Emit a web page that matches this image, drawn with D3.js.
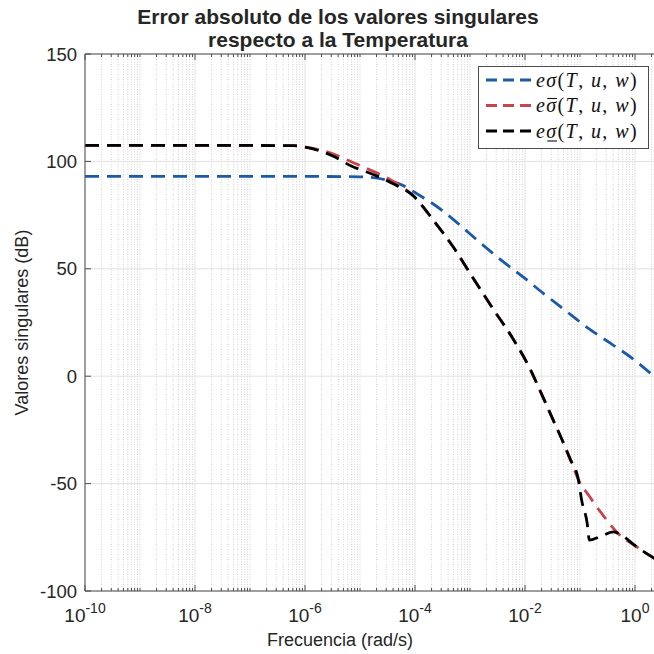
<!DOCTYPE html>
<html>
<head>
<meta charset="utf-8">
<script src="https://cdn.jsdelivr.net/npm/d3@7"></script>
<style>
  html, body { margin: 0; padding: 0; background: #fff; }
  svg { display: block; }
  text { font-family: "Liberation Sans", Arial, Helvetica, sans-serif; fill: #262626; }
  .leg { font-family: "Liberation Serif", "Times New Roman", serif; fill: #111; }
</style>
</head>
<body>
<svg id="chart" width="654" height="654"></svg>
<script>
// Frequency samples (rad/s) and singular-value errors (dB)
const freqSigma = [1e-10, 1e-8, 1e-6, 1e-5, 3.1e-5, 5.6e-5, 1e-4, 2.5e-4, 5.8e-4, 1.4e-3, 3.5e-3, 1e-2, 2.1e-2, 5e-2, 0.13, 0.35, 0.93, 2.0, 3.2];
const eSigma    = [93, 93, 93, 92.8, 91.3, 89.2, 85.5, 79, 71.5, 63, 54.5, 45.5, 38.8, 31.3, 23, 15.5, 8, 1, -3];

const freqMax = [1e-10, 1e-8, 6.3e-7, 1e-6, 1.8e-6, 3.2e-6, 7.4e-6, 1.3e-5, 4.1e-5, 9.3e-5, 2.1e-4, 5e-4, 1.15e-3, 2.6e-3, 6.2e-3, 1.23e-2, 1.86e-2, 3.2e-2, 4.7e-2, 6.6e-2, 9.3e-2, 0.15, 0.26, 0.49, 1.07, 2.0, 3.2];
const eSigmaMax = [107.5, 107.5, 107.3, 106.8, 105.5, 103.5, 99.5, 96.8, 90.6, 84, 73, 60, 45.5, 31.5, 17, 3.5, -6.5, -20, -29.5, -38.5, -48, -56.1, -64.6, -73.1, -79.4, -84, -87];

const freqMin = [1e-10, 1e-8, 6.3e-7, 1e-6, 1.8e-6, 3.2e-6, 7.4e-6, 1.3e-5, 4.1e-5, 9.3e-5, 2.1e-4, 5e-4, 1.15e-3, 2.6e-3, 6.2e-3, 1.23e-2, 1.86e-2, 3.2e-2, 4.7e-2, 6.6e-2, 9.3e-2, 0.107, 0.135, 0.148, 0.23, 0.41, 0.49, 1.07, 2.0, 3.2];
const eSigmaMin = [107.5, 107.5, 107.3, 106.6, 105, 102.5, 97.5, 95.2, 89.5, 84, 73, 60, 45.5, 31.5, 17, 3.5, -6.5, -20, -29.5, -38.5, -48, -57.6, -68.5, -76.3, -74.7, -72.5, -73.1, -79.4, -84, -87];

const yTicks = [-100, -50, 0, 50, 100, 150];
const xTickExponents = [-10, -8, -6, -4, -2, 0];

const titleLines = ["Error absoluto de los valores singulares", "respecto a la Temperatura"];
const xLabel = "Frecuencia (rad/s)";
const yLabel = "Valores singulares (dB)";

const seriesColors = ["#1a5aa6", "#c8434a", "#000000"];

const svg = d3.select("#chart");
const plot = { left: 85, top: 54, bottom: 591, pxPerDecade: 55 };
const xDomain = [1e-10, 2.6];
const x = d3.scaleLog().domain(xDomain)
  .range([plot.left, plot.left + plot.pxPerDecade * Math.log10(xDomain[1] / xDomain[0])]);
const y = d3.scaleLinear().domain([-100, 150]).range([plot.bottom, plot.top]);
const right = x.range()[1];

svg.append("defs").append("clipPath").attr("id", "clip")
  .append("rect").attr("x", plot.left).attr("y", plot.top)
  .attr("width", right - plot.left).attr("height", plot.bottom - plot.top);

// minor tick/grid positions: 1..9 × 10^k (skip the labelled decades)
const minorVals = [];
for (let k = -10; k <= 0; k++) {
  for (let m = 1; m <= 9; m++) {
    const v = m * Math.pow(10, k);
    if (v > xDomain[1]) continue;
    if (m === 1 && xTickExponents.includes(k)) continue;
    minorVals.push(v);
  }
}
const majorVals = xTickExponents.map(e => Math.pow(10, e));

const grid = svg.append("g");
grid.selectAll(".gminor").data(minorVals).join("line")
  .attr("x1", d => x(d)).attr("x2", d => x(d))
  .attr("y1", plot.top).attr("y2", plot.bottom)
  .attr("stroke", "#c8c8c8").attr("stroke-width", 0.8).attr("stroke-dasharray", "1,1.5");
grid.selectAll(".gmajor").data(majorVals).join("line")
  .attr("x1", d => x(d)).attr("x2", d => x(d))
  .attr("y1", plot.top).attr("y2", plot.bottom)
  .attr("stroke", "#e2e2e2").attr("stroke-width", 1);
grid.selectAll(".gy").data(yTicks).join("line")
  .attr("x1", plot.left).attr("x2", right)
  .attr("y1", d => y(d)).attr("y2", d => y(d))
  .attr("stroke", "#e2e2e2").attr("stroke-width", 1);

// series
const series = [
  { f: freqSigma, v: eSigma, c: seriesColors[0] },
  { f: freqMax, v: eSigmaMax, c: seriesColors[1] },
  { f: freqMin, v: eSigmaMin, c: seriesColors[2] }
];
const line = d3.line().x(d => x(d[0])).y(d => y(d[1])).curve(d3.curveMonotoneX);
const lines = svg.append("g").attr("clip-path", "url(#clip)");
series.forEach(s => {
  lines.append("path")
    .datum(s.f.map((f, i) => [f, s.v[i]]))
    .attr("d", line)
    .attr("fill", "none")
    .attr("stroke", s.c)
    .attr("stroke-width", 2.8)
    .attr("stroke-dasharray", "14,8");
});

// axes frame
const axisColor = "#4d4d4d";
svg.append("path")
  .attr("d", `M${right},${plot.top}H${plot.left}V${plot.bottom}H${right}`)
  .attr("fill", "none").attr("stroke", axisColor).attr("stroke-width", 1);

// x ticks (inside, bottom and top)
const tickG = svg.append("g").attr("stroke", axisColor).attr("stroke-width", 1);
[plot.bottom, plot.top].forEach((yy, i) => {
  const dir = i === 0 ? -1 : 1;
  tickG.selectAll(null).data(minorVals).join("line")
    .attr("x1", d => x(d)).attr("x2", d => x(d))
    .attr("y1", yy).attr("y2", yy + dir * 3);
  tickG.selectAll(null).data(majorVals).join("line")
    .attr("x1", d => x(d)).attr("x2", d => x(d))
    .attr("y1", yy).attr("y2", yy + dir * 6);
});
tickG.selectAll(null).data(yTicks).join("line")
  .attr("x1", plot.left).attr("x2", plot.left + 6)
  .attr("y1", d => y(d)).attr("y2", d => y(d));

// y tick labels
svg.append("g").selectAll("text").data(yTicks).join("text")
  .attr("x", plot.left - 8).attr("y", d => y(d) + 6.5)
  .attr("text-anchor", "end").attr("font-size", 18.5)
  .text(d => d);

// x tick labels 10^k
const xl = svg.append("g").selectAll("text").data(xTickExponents).join("text")
  .attr("x", d => x(Math.pow(10, d))).attr("y", 622)
  .attr("text-anchor", "middle").attr("font-size", 19);
xl.append("tspan").text("10");
xl.append("tspan").attr("dy", -9).attr("font-size", 14).text(d => d);

// titles and axis labels
svg.append("g").selectAll("text").data(titleLines).join("text")
  .attr("x", 338).attr("y", (d, i) => 24 + i * 23)
  .attr("text-anchor", "middle").attr("font-size", 21).attr("font-weight", "bold")
  .attr("fill", "#000")
  .text(d => d);
svg.append("text").attr("x", 340).attr("y", 646)
  .attr("text-anchor", "middle").attr("font-size", 18).text(xLabel);
svg.append("text")
  .attr("transform", `translate(28,${(plot.top + plot.bottom) / 2}) rotate(-90)`)
  .attr("text-anchor", "middle").attr("font-size", 18).text(yLabel);

// legend
const legend = svg.append("g");
legend.append("rect").attr("x", 478.5).attr("y", 66.5).attr("width", 170).attr("height", 82)
  .attr("fill", "#fff").attr("stroke", axisColor).attr("stroke-width", 1);
const legendMarks = ["none", "over", "under"];
legendMarks.forEach((mark, i) => {
  const cy = 80 + i * 25.5;
  legend.append("line").attr("x1", 486).attr("x2", 531).attr("y1", cy).attr("y2", cy)
    .attr("stroke", seriesColors[i]).attr("stroke-width", 2.8).attr("stroke-dasharray", "11,6");
  const t = legend.append("text").attr("class", "leg").attr("x", 536).attr("y", cy + 6.5)
    .attr("font-size", 20).attr("letter-spacing", 1.4);
  t.append("tspan").attr("font-style", "italic").text("eσ");
  t.append("tspan").text("(");
  t.append("tspan").attr("font-style", "italic").text("T");
  t.append("tspan").text(", ");
  t.append("tspan").attr("font-style", "italic").text("u");
  t.append("tspan").text(", ");
  t.append("tspan").attr("font-style", "italic").text("w");
  t.append("tspan").text(")");
  if (mark !== "none") {
    const node = t.node();
    const s = node.getStartPositionOfChar(1).x;
    const e = node.getEndPositionOfChar(1).x;
    const yy = mark === "over" ? cy - 7 : cy + 10;
    legend.append("line").attr("x1", s + 1).attr("x2", e - 0.5).attr("y1", yy).attr("y2", yy)
      .attr("stroke", "#111").attr("stroke-width", 1.1);
  }
});
</script>
</body>
</html>
